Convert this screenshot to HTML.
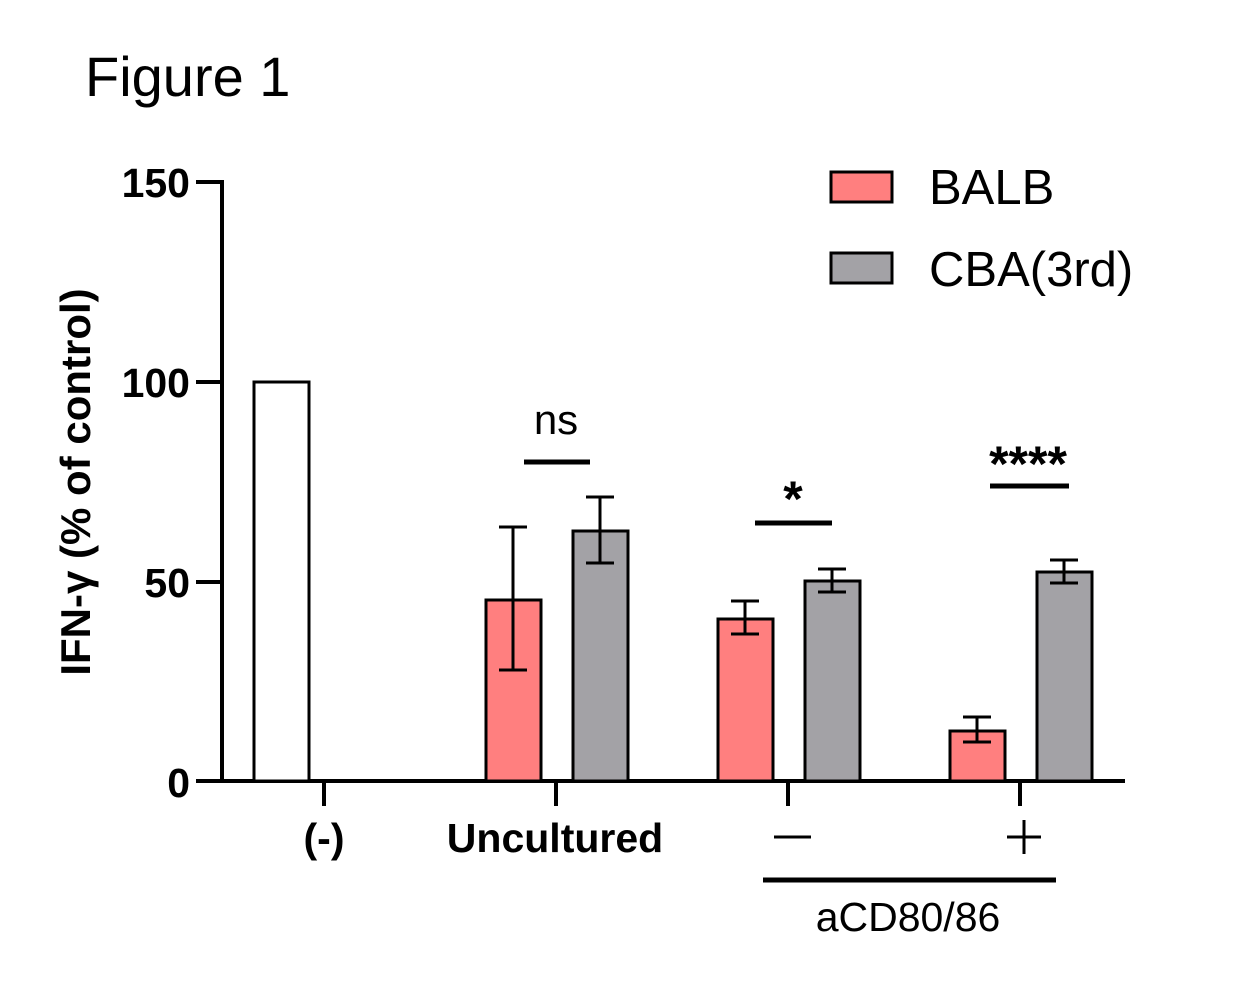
<!DOCTYPE html>
<html><head><style>body{margin:0;background:#fff}svg{display:block}</style></head>
<body>
<svg width="1256" height="983" viewBox="0 0 1256 983" xmlns="http://www.w3.org/2000/svg" font-family="Liberation Sans, Arial, sans-serif">
<text x="85" y="96" font-size="56">Figure 1</text>
<g stroke="#000" stroke-width="4" fill="none">
<line x1="222" y1="180" x2="222" y2="783"/>
<line x1="196" y1="781" x2="1125" y2="781"/>
<line x1="196" y1="182" x2="222" y2="182"/>
<line x1="196" y1="382" x2="222" y2="382"/>
<line x1="196" y1="582" x2="222" y2="582"/>
<line x1="324" y1="781" x2="324" y2="806"/>
<line x1="556" y1="781" x2="556" y2="806"/>
<line x1="788" y1="781" x2="788" y2="806"/>
<line x1="1020" y1="781" x2="1020" y2="806"/>
</g>
<g font-size="41" font-weight="bold" text-anchor="end">
<text x="190" y="197">150</text>
<text x="190" y="397">100</text>
<text x="190" y="597">50</text>
<text x="190" y="797">0</text>
</g>
<text transform="translate(90,482) rotate(-90)" font-size="42" font-weight="bold" text-anchor="middle">IFN-γ (% of control)</text>
<g stroke="#000" stroke-width="3">
<rect x="254" y="382" width="55" height="399" fill="#fff"/>
<rect x="486" y="600" width="55" height="181" fill="#ff7f7f"/>
<rect x="573" y="531" width="55" height="250" fill="#a3a2a6"/>
<rect x="718" y="619" width="55" height="162" fill="#ff7f7f"/>
<rect x="805" y="581" width="55" height="200" fill="#a3a2a6"/>
<rect x="950" y="731" width="55" height="50" fill="#ff7f7f"/>
<rect x="1037" y="572" width="55" height="209" fill="#a3a2a6"/>
</g>
<g stroke="#000" stroke-width="3" fill="none">
<path d="M513 527V670M499 527H527M499 670H527"/>
<path d="M600 497V563M586 497H614M586 563H614"/>
<path d="M745 601V634M731 601H759M731 634H759"/>
<path d="M832 569V592M818 569H846M818 592H846"/>
<path d="M977 717V742M963 717H991M963 742H991"/>
<path d="M1064 560V583M1050 560H1078M1050 583H1078"/>
</g>
<g stroke="#000" stroke-width="5">
<line x1="524" y1="462" x2="590" y2="462"/>
<line x1="755" y1="523" x2="832" y2="523"/>
<line x1="990" y1="486" x2="1069" y2="486"/>
<line x1="763" y1="880" x2="1056" y2="880"/>
</g>
<text x="556" y="434" font-size="42" text-anchor="middle">ns</text>
<text x="793" y="516" font-size="50" font-weight="bold" text-anchor="middle">*</text>
<text x="1028" y="481" font-size="50" font-weight="bold" text-anchor="middle">****</text>
<g font-size="41" font-weight="bold" text-anchor="middle">
<text x="324" y="852">(-)</text>
<text x="555" y="852">Uncultured</text>
</g>
<line x1="774" y1="837" x2="811" y2="837" stroke="#000" stroke-width="3"/>
<path d="M1024 820V854M1007 837H1041" stroke="#000" stroke-width="3"/>
<text x="908" y="931" font-size="41" text-anchor="middle">aCD80/86</text>
<rect x="831" y="172" width="61" height="30" fill="#ff7f7f" stroke="#000" stroke-width="3"/>
<rect x="831" y="253" width="61" height="30" fill="#a3a2a6" stroke="#000" stroke-width="3"/>
<text x="929" y="204" font-size="49">BALB</text>
<text x="929" y="286" font-size="49">CBA(3rd)</text>
</svg>
</body></html>
